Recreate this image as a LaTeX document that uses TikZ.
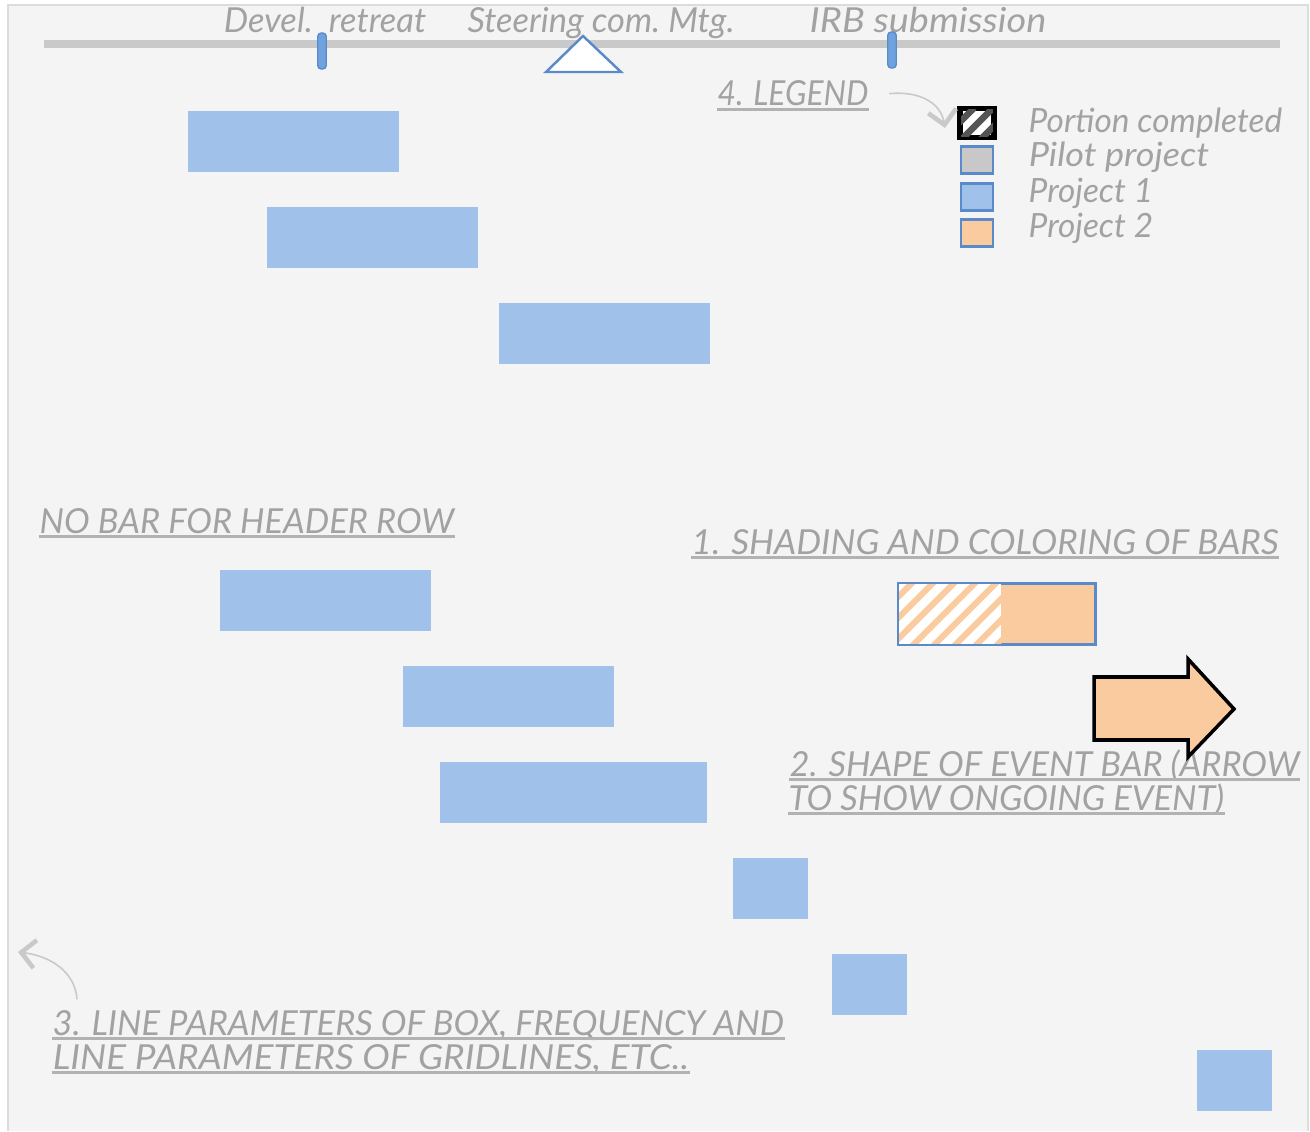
\documentclass[tikz,border=0pt]{standalone}
\usepackage{fontspec}
\newfontfamily\hand{Lato}
\usepackage{xcolor}
\usetikzlibrary{positioning}
\usetikzlibrary{arrows.meta}

\definecolor{sheet}{HTML}{F4F4F4}
\definecolor{framegray}{HTML}{DCDCDC}
\definecolor{linegray}{HTML}{C9C9C9}
\definecolor{inkgray}{HTML}{A2A2A2}
\definecolor{ulinegray}{HTML}{B2B2B2}
\definecolor{barblue}{HTML}{A0C2EA}
\definecolor{edgeblue}{HTML}{5B8ACB}
\definecolor{markblue}{HTML}{6FA3DE}
\definecolor{peach}{HTML}{FBCBA0}
\definecolor{pilotgray}{HTML}{C8C8C8}
\definecolor{stripegray}{HTML}{555555}

\tikzset{
  timeline/.style={linegray, line width=2.3pt},
  milestone/.style={draw=edgeblue, fill=markblue, rounded corners=1pt, minimum width=0.085cm, minimum height=0.36cm, inner sep=0pt},
  tllabel/.style={text=inkgray, font=\hand\itshape\fontsize{9.8}{11}\selectfont, inner sep=0pt, anchor=base},
  note/.style={text=inkgray, font=\hand\itshape\fontsize{9.8}{11}\selectfont, inner sep=0pt, anchor=base west},
  uline/.style={ulinegray, line width=0.85pt},
  legbox/.style={draw=edgeblue, line width=0.6pt, minimum width=0.32cm, minimum height=0.27cm, inner sep=0pt},
  legtext/.style={text=inkgray, font=\hand\itshape\fontsize{9.5}{11}\selectfont, inner sep=0pt, anchor=base west},
  bar/.style={fill=barblue},
  hint/.style={linegray, line width=0.45pt, -{Straight Barb[length=4pt, width=8pt, line width=1.3pt]}}
}

\begin{document}
\begin{tikzpicture}[x=0.01cm, y=-0.01cm]
\useasboundingbox (0,0) rectangle (1310,1131);

% sheet
\fill[sheet] (8,5) rectangle (1308,1131);
\draw[framegray, line width=0.6pt] (8,1131) -- (8,5) -- (1308,5) -- (1308,1131);

% time line
\coordinate (tlwest) at (44,44);
\coordinate (tleast) at (1280,44);
\draw[timeline] (tlwest) -- (tleast);

\node[tllabel] (develtext) at (325,33) {Devel.\ \ retreat};
\node[tllabel] (steertext) at (601,33) {Steering com.\ Mtg.};
\node[tllabel, xscale=1.1] (irbtext) at (928,33) {IRB submission};

\node[milestone] (develmark) at (322,51) {};
\node[milestone] (irbmark) at (892,50) {};
\draw[edgeblue, fill=white, line width=0.7pt] (546,72) -- (583,36) -- (621,72) -- cycle;

% bars
\foreach \x/\y/\w in {188/111/211, 267/207/211, 499/303/211, 220/570/211, 403/666/211, 440/762/267, 733/858/75, 832/954/75, 1197/1050/75}
  \fill[bar] (\x,\y) rectangle ++(\w,61);

% legend
\node[note, xscale=0.92] (legendnote) at (717,106) {4. LEGEND};

\node[legbox, draw=black, line width=1pt, fill=white] (legdone) at (977,123) {};
\begin{scope}
\clip (legdone.south west) rectangle (legdone.north east);
\foreach \k in {-1,0,1}
  \draw[stripegray, line width=1.9pt] (961+\k*19,140) -- ++(32,-32);
\end{scope}
\draw[black, line width=1pt] (legdone.south west) rectangle (legdone.north east);
\node[legbox, fill=pilotgray] (legpilot) at (977,160) {};
\node[legbox, fill=barblue] (legone) at (977,197) {};
\node[legbox, fill=peach] (legtwo) at (977,233) {};

\node[legtext] (donetext) at (1028,133) {Portion completed};
\node[legtext, xscale=1.08] (pilottext) at (1028,167) {Pilot project};
\node[legtext] (onetext) at (1028,203) {Project 1};
\node[legtext] (twotext) at (1028,238) {Project 2};

\coordinate (legendtip) at (945,128);
\draw[hint] ([xshift=0.2cm]legendnote.east) .. controls +(32,-3) and +(-4,-24) .. (legendtip);

% notes
\node[note] (headernote) at (39,533) {NO BAR FOR HEADER ROW};
\node[note, xscale=1.02] (shadenote) at (691,554) {1. SHADING AND COLORING OF BARS};
\node[note] (shapenote) at (789,776) {2. SHAPE OF EVENT BAR (ARROW};
\node[note] (shapenotetwo) at (788,810) {TO SHOW ONGOING EVENT)};
\node[note] (linenote) at (52,1035) {3. LINE PARAMETERS OF BOX, FREQUENCY AND};
\node[note, xscale=1.07] (linenotetwo) at (52,1069) {LINE PARAMETERS OF GRIDLINES, ETC..};

\foreach \n in {legendnote, headernote, shadenote, shapenote, shapenotetwo, linenote, linenotetwo}
  \draw[uline] ([yshift=-0.9pt]\n.base west) -- ([yshift=-0.9pt]\n.base east);

% shaded bar
\node[draw=edgeblue, line width=0.6pt, fill=peach, minimum width=1.95cm, minimum height=0.6cm, inner sep=0pt] (demobar) at (997,614) {};
\fill[white] (demobar.south west) rectangle ([xshift=1.03cm]demobar.north west);
\begin{scope}
\clip (demobar.south west) rectangle ([xshift=1.03cm]demobar.north west);
\foreach \k in {0,...,8}
  \draw[peach, line width=1.7pt] (845+\k*21,650) -- ++(70,-70);
\end{scope}
\draw[edgeblue, line width=0.6pt] (demobar.south west) rectangle (demobar.north east);

% event arrow
\draw[black, fill=peach, line width=1pt] (1094,677) -- (1188,677) -- (1188,659) -- (1234,709) -- (1188,757) -- (1188,740) -- (1094,740) -- cycle;

\coordinate (backtip) at (18,952);
\draw[hint] ([xshift=0.25cm, yshift=0.1cm]linenote.north west) .. controls +(-2,-28) and +(32,4) .. (backtip);

\end{tikzpicture}
\end{document}
